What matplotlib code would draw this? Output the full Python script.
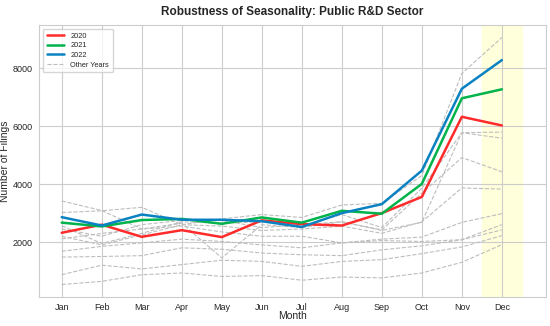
import matplotlib
matplotlib.use("Agg")
import matplotlib.pyplot as plt
import seaborn as sns

sns.set_style("whitegrid")
plt.rcParams['font.family'] = ['Liberation Sans', 'DejaVu Sans']

meses = ['Jan', 'Feb', 'Mar', 'Apr', 'May', 'Jun', 'Jul', 'Aug', 'Sep', 'Oct', 'Nov', 'Dec']

# años destacados
y2020 = [2320, 2600, 2180, 2410, 2170, 2750, 2620, 2570, 3000, 3560, 6330, 6030]
y2021 = [2670, 2540, 2760, 2800, 2630, 2850, 2670, 3080, 2980, 4010, 6970, 7280]
y2022 = [2860, 2570, 2950, 2770, 2770, 2720, 2520, 3000, 3310, 4470, 7300, 8290]

# resto de los años (gris)
otros = [
    [3020, 3080, 3200, 2600, 2800, 2950, 2850, 3280, 3340, 4300, 7830, 9070],
    [3420, 3090, 2450, 2650, 1450, 2600, 2500, 2700, 2400, 2680, 5780, 5800],
    [2560, 1950, 2300, 2700, 2650, 2700, 2550, 2950, 2500, 3860, 5780, 5590],
    [2450, 2200, 2600, 2750, 2750, 2500, 2600, 2700, 2420, 3690, 4920, 4430],
    [2200, 1900, 2250, 2600, 2550, 2400, 2450, 2550, 2300, 2700, 3870, 3830],
    [2110, 2300, 2450, 2550, 2350, 2200, 2200, 1970, 2100, 2170, 2680, 2980],
    [1680, 1850, 1970, 2100, 2020, 1900, 1800, 1970, 2050, 2020, 2080, 2600],
    [1480, 1500, 1530, 1800, 1750, 1620, 1560, 1530, 1730, 1870, 2080, 2420],
    [870, 1200, 1070, 1220, 1370, 1330, 1160, 1330, 1390, 1600, 1830, 2220],
    [530, 640, 870, 930, 810, 840, 680, 790, 760, 930, 1300, 1910],
]

x = list(range(len(meses)))

fig = plt.figure(figsize=(5.5, 3.26), dpi=100)
ax = fig.add_axes([0.0715, 0.089, 0.921, 0.834])

ax.axvspan(10.5, 11.5, color='#ffffdc', zorder=0)

for i, serie in enumerate(otros):
    ax.plot(x, serie, color='#bdbdbd', ls='--', lw=0.8,
            label='Other Years' if i == 0 else None)

ax.plot(x, y2020, color='#ff2a2a', lw=1.8, label='2020')
ax.plot(x, y2021, color='#00b34a', lw=1.8, label='2021')
ax.plot(x, y2022, color='#0a82c2', lw=1.8, label='2022')

ax.set_xticks(x)
ax.set_xticklabels(meses)
ax.set_xlim(-0.56, 12.1)
ax.set_ylim(100, 9500)
ax.set_yticks([2000, 4000, 6000, 8000])
ax.tick_params(axis='x', labelsize=6.5, length=0, pad=4)
ax.tick_params(axis='y', labelsize=6.5, length=0, pad=5)

ax.set_xlabel("Month", fontsize=7.5)
ax.set_ylabel("Number of Filings", fontsize=7.5)
ax.xaxis.set_label_coords(0.5, -0.052)
ax.yaxis.set_label_coords(-0.058, 0.5)
ax.set_title("Robustness of Seasonality: Public R&D Sector", fontsize=8.5, fontweight='bold', pad=7)

h, l = ax.get_legend_handles_labels()
orden = [1, 2, 3, 0]
ax.legend([h[i] for i in orden], [l[i] for i in orden], loc='upper left', fontsize=5.3,
          frameon=True, handlelength=2.4, borderpad=0.5, labelspacing=0.35)

fig.savefig("out.png", dpi=100)
